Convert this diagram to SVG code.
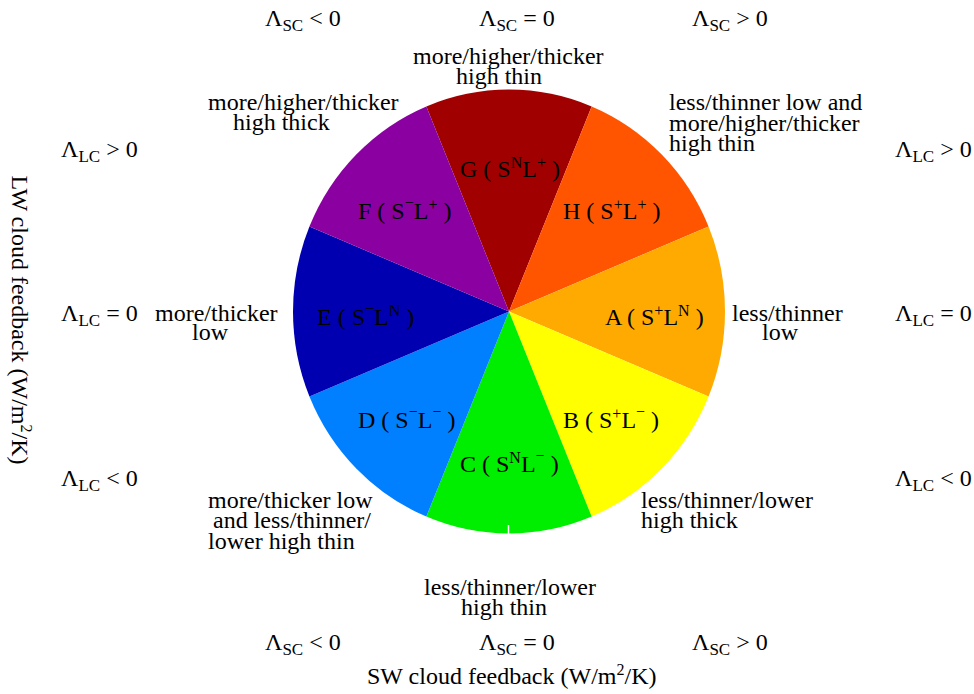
<svg xmlns="http://www.w3.org/2000/svg" width="974" height="694" viewBox="0 0 974 694">
<style>
text{font-family:"Liberation Serif","Times New Roman",serif;font-size:24px;fill:#000}
.sub{font-size:17px}
.sup{font-size:16px}
.mid{text-anchor:middle}
</style>
<rect width="974" height="694" fill="#fff"/>
<g id="connectors"/>
<g id="wedge-G">
<path d="M509,311.5 L426.34,106.4 A216,222 0 0 1 591.66,106.4 Z" fill="#a00000"/>
<text x="460" y="177">G ( S<tspan class="sup" dy="-9">N</tspan><tspan dy="9">L</tspan><tspan class="sup" dy="-9">+</tspan><tspan dy="9"> )</tspan></text>
</g>
<g id="wedge-H">
<path d="M509,311.5 L591.66,106.4 A216,222 0 0 1 708.56,226.54 Z" fill="#ff5500"/>
<text x="563" y="219">H ( S<tspan class="sup" dy="-9">+</tspan><tspan dy="9">L</tspan><tspan class="sup" dy="-9">+</tspan><tspan dy="9"> )</tspan></text>
</g>
<g id="wedge-A">
<path d="M509,311.5 L708.56,226.54 A216,222 0 0 1 708.56,396.46 Z" fill="#ffaa00"/>
<text x="605" y="325">A ( S<tspan class="sup" dy="-9">+</tspan><tspan dy="9">L</tspan><tspan class="sup" dy="-9">N</tspan><tspan dy="9"> )</tspan></text>
</g>
<g id="wedge-B">
<path d="M509,311.5 L708.56,396.46 A216,222 0 0 1 591.66,516.6 Z" fill="#ffff00"/>
<text x="563" y="428">B ( S<tspan class="sup" dy="-9">+</tspan><tspan dy="9">L</tspan><tspan class="sup" dy="-11">−</tspan><tspan dy="11"> )</tspan></text>
</g>
<g id="wedge-C">
<path d="M509,311.5 L591.66,516.6 A216,222 0 0 1 426.34,516.6 Z" fill="#00ee00"/>
<line x1="508.5" y1="525" x2="508.5" y2="534" stroke="#fff" stroke-width="1.5"/>
<text x="460" y="472">C ( S<tspan class="sup" dy="-9">N</tspan><tspan dy="9">L</tspan><tspan class="sup" dy="-11">−</tspan><tspan dy="11"> )</tspan></text>
</g>
<g id="wedge-D">
<path d="M509,311.5 L426.34,516.6 A216,222 0 0 1 309.44,396.46 Z" fill="#0080ff"/>
<text x="358" y="428">D ( S<tspan class="sup" dy="-11">−</tspan><tspan dy="11">L</tspan><tspan class="sup" dy="-11">−</tspan><tspan dy="11"> )</tspan></text>
</g>
<g id="wedge-E">
<path d="M509,311.5 L309.44,396.46 A216,222 0 0 1 309.44,226.54 Z" fill="#0000b0"/>
<text x="317" y="325">E ( S<tspan class="sup" dy="-11">−</tspan><tspan dy="11">L</tspan><tspan class="sup" dy="-9">N</tspan><tspan dy="9"> )</tspan></text>
</g>
<g id="wedge-F">
<path d="M509,311.5 L309.44,226.54 A216,222 0 0 1 426.34,106.4 Z" fill="#8a00a0"/>
<text x="358" y="219">F ( S<tspan class="sup" dy="-11">−</tspan><tspan dy="11">L</tspan><tspan class="sup" dy="-9">+</tspan><tspan dy="9"> )</tspan></text>
</g>
<g id="desc-G">
<text x="413" y="64">more/higher/thicker</text>
<text x="456" y="84">high thin</text>
</g>
<g id="desc-F">
<text x="208" y="110">more/higher/thicker</text>
<text x="233" y="130">high thick</text>
</g>
<g id="desc-H">
<text x="669" y="110">less/thinner low and</text>
<text x="669" y="130.5">more/higher/thicker</text>
<text x="669" y="151">high thin</text>
</g>
<g id="desc-E">
<text x="155" y="320.5">more/thicker</text>
<text x="192" y="339.5">low</text>
</g>
<g id="desc-A">
<text x="732" y="320.5">less/thinner</text>
<text x="762" y="339.5">low</text>
</g>
<g id="desc-D">
<text x="208" y="508">more/thicker low</text>
<text x="213" y="528">and less/thinner/</text>
<text x="208" y="548.5">lower high thin</text>
</g>
<g id="desc-B">
<text x="641" y="508">less/thinner/lower</text>
<text x="641" y="528">high thick</text>
</g>
<g id="desc-C">
<text x="424" y="595">less/thinner/lower</text>
<text x="461" y="615">high thin</text>
</g>
<g id="axis-top">
<text x="265" y="26">Λ<tspan class="sub" dy="5">SC</tspan><tspan dy="-5"> &lt; 0</tspan></text>
<text x="479" y="26">Λ<tspan class="sub" dy="5">SC</tspan><tspan dy="-5"> = 0</tspan></text>
<text x="692" y="26">Λ<tspan class="sub" dy="5">SC</tspan><tspan dy="-5"> &gt; 0</tspan></text>
</g>
<g id="axis-bottom">
<text x="265" y="650">Λ<tspan class="sub" dy="5">SC</tspan><tspan dy="-5"> &lt; 0</tspan></text>
<text x="479" y="650">Λ<tspan class="sub" dy="5">SC</tspan><tspan dy="-5"> = 0</tspan></text>
<text x="692" y="650">Λ<tspan class="sub" dy="5">SC</tspan><tspan dy="-5"> &gt; 0</tspan></text>
<text x="367" y="684">SW cloud feedback (W/m<tspan class="sup" dy="-9">2</tspan><tspan dy="9">/K)</tspan></text>
</g>
<g id="axis-left">
<text x="61" y="157">Λ<tspan class="sub" dy="5">LC</tspan><tspan dy="-5"> &gt; 0</tspan></text>
<text x="61" y="321">Λ<tspan class="sub" dy="5">LC</tspan><tspan dy="-5"> = 0</tspan></text>
<text x="61" y="486">Λ<tspan class="sub" dy="5">LC</tspan><tspan dy="-5"> &lt; 0</tspan></text>
<text class="mid" transform="translate(12,320) rotate(90)">LW cloud feedback (W/m<tspan class="sup" dy="-9">2</tspan><tspan dy="9">/K)</tspan></text>
</g>
<g id="axis-right">
<text x="895" y="157">Λ<tspan class="sub" dy="5">LC</tspan><tspan dy="-5"> &gt; 0</tspan></text>
<text x="895" y="321">Λ<tspan class="sub" dy="5">LC</tspan><tspan dy="-5"> = 0</tspan></text>
<text x="895" y="486">Λ<tspan class="sub" dy="5">LC</tspan><tspan dy="-5"> &lt; 0</tspan></text>
</g>
</svg>
